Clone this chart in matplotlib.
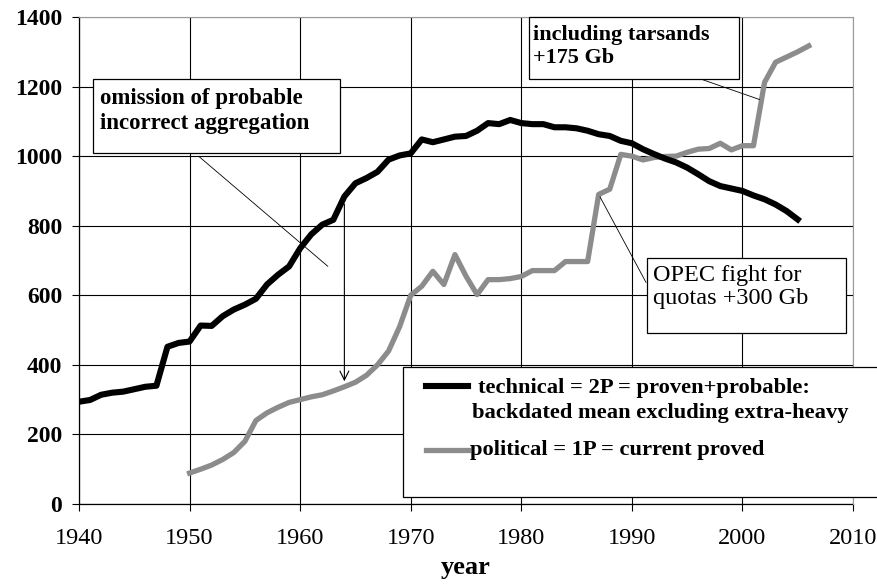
import numpy as np
import matplotlib as mpl; mpl.use("Agg")
import matplotlib.pyplot as plt
from matplotlib.patches import Rectangle
from matplotlib.lines import Line2D

# technical = 2P reserves, 1940-2005 (Gb)
tech_years = list(range(1940, 2006))
tech_vals = [294, 299, 314, 320, 323, 330, 337, 340, 452, 463,
             467, 513, 512, 540, 559, 573, 590, 631, 659, 683,
             735, 775, 803, 817, 884, 922, 937, 955, 990, 1002,
             1008, 1048, 1040, 1048, 1056, 1058, 1073, 1095, 1092, 1104,
             1095, 1092, 1092, 1083, 1083, 1080, 1073, 1063, 1058, 1044,
             1037, 1020, 1006, 993, 982, 967, 948, 928, 914, 907,
             900, 887, 876, 861, 842, 818]

# political = 1P reserves, 1950-2006 (Gb)
pol_years = list(range(1950, 2007))
pol_vals = [89, 100, 112, 128, 148, 180, 240, 262, 278, 292,
            300, 308, 314, 325, 337, 350, 370, 400, 440, 510,
            600, 626, 669, 631, 717, 655, 602, 645, 645, 648,
            654, 671, 671, 671, 697, 697, 697, 890, 905, 1005,
            1000, 989, 996, 999, 1000, 1011, 1020, 1022, 1037, 1018,
            1030, 1030, 1212, 1270, 1285, 1300, 1317]

tech_label = "technical = 2P = proven+probable:"
tech_label2 = "backdated mean excluding extra-heavy"
pol_label = "political = 1P = current proved"

BLACK, GREY = "black", "#8c8c8c"
SERIF = ["Liberation Serif", "DejaVu Serif"]
mpl.rcParams.update({"font.family": SERIF, "font.size": 16})

W, H = 877, 584
fig = plt.figure(figsize=(W / 100, H / 100), dpi=100)
ax = fig.add_axes([79 / W, 1 - 504 / H, (853 - 79) / W, (504 - 17) / H])

ax.plot(pol_years, pol_vals, color=GREY, lw=3.8, solid_joinstyle="round", zorder=3)
ax.plot(tech_years, tech_vals, color=BLACK, lw=4.4, solid_joinstyle="round", zorder=4)

ax.set_xlim(1940, 2010)
ax.set_ylim(0, 1400)
ax.set_xticks(range(1940, 2011, 10))
ax.set_yticks(range(0, 1401, 200))
ax.grid(True, color="black", lw=0.8)
ax.set_axisbelow(True)
ax.tick_params(axis="y", direction="out", length=5, width=0.8, pad=7, labelsize=17)
ax.tick_params(axis="x", direction="out", length=5, width=0.8, pad=12, labelsize=17.5)
for t in ax.get_yticklabels():
    t.set_fontweight("bold")
for s in ["top", "right"]:
    ax.spines[s].set_color("#9a9a9a")
    ax.spines[s].set_zorder(5)
for s in ["left", "bottom"]:
    ax.spines[s].set_linewidth(0.9)
ax.set_xlabel("year", fontsize=19, fontweight="bold", labelpad=5)

def box(x0, y0, x1, y1):
    ax.add_patch(Rectangle((x0, y0), x1 - x0, y1 - y0, transform=ax.transData,
                           facecolor="white", edgecolor="black", lw=0.9,
                           zorder=6, clip_on=False))

# omission annotation
box(1941.3, 1009, 1963.6, 1222)
ax.text(1941.9, 1130, "omission of probable\nincorrect aggregation", fontsize=16.5,
        fontweight="bold", va="center", ha="left", linespacing=1.2, zorder=7)
ax.annotate("", xy=(1962.7, 678), xytext=(1950.7, 1003),
            arrowprops=dict(arrowstyle="-", color="black", lw=0.6), zorder=5)
ax.annotate("", xy=(1964, 345), xytext=(1964, 870),
            arrowprops=dict(arrowstyle="->", color="black", lw=0.8,
                            mutation_scale=16), zorder=5)

# tarsands annotation
box(1980.7, 1222, 1999.7, 1400)
ax.text(1981.1, 1315, "including tarsands\n+175 Gb", fontsize=16,
        fontweight="bold", va="center", ha="left", linespacing=1.25, zorder=7)
ax.annotate("", xy=(pol_years[52] - 0.2, 1160), xytext=(1996.2, 1222),
            arrowprops=dict(arrowstyle="-", color="black", lw=0.6), zorder=5)

# OPEC annotation
box(1991.4, 492, 2009.4, 707)
ax.text(1991.9, 624, "OPEC fight for\nquotas +300 Gb", fontsize=17.5,
        va="center", ha="left", linespacing=1.13, zorder=7)
ax.annotate("", xy=(pol_years[37], pol_vals[37]), xytext=(1991.4, 630),
            arrowprops=dict(arrowstyle="-", color="black", lw=0.6), zorder=5)

# legend box, entries placed by hand (handle sits on first label line)
box(1969.3, 20, 2015, 394)
def fx(px): return px / W
def fy(py): return 1 - py / H
for py, col, lw in [(386, BLACK, 4.4), (450, GREY, 3.8)]:
    fig.add_artist(Line2D([fx(426), fx(468)], [fy(py), fy(py)], color=col,
                          lw=lw, zorder=8))
legend_txt = dict(fontsize=16.2, fontweight="bold", va="center", ha="left", zorder=8)
fig.text(fx(478), fy(388), tech_label, **legend_txt)
fig.text(fx(472), fy(413), tech_label2, **legend_txt)
fig.text(fx(470), fy(450), pol_label, **legend_txt)

fig.savefig("out.png", dpi=100)
